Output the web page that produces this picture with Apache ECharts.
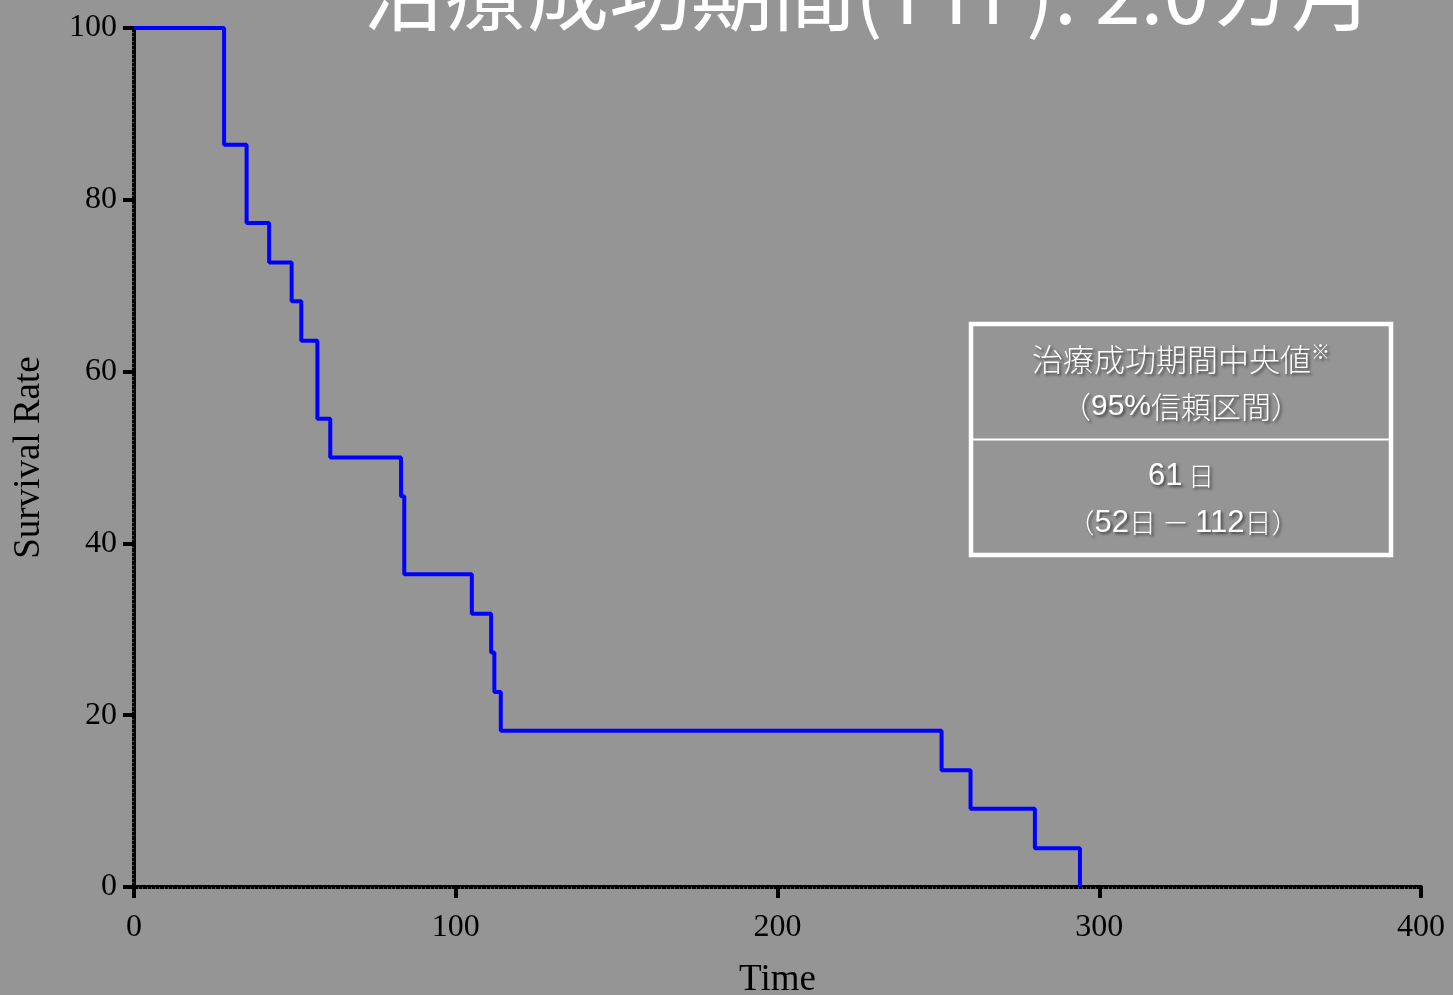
<!DOCTYPE html>
<html>
<head>
<meta charset="utf-8">
<script src="https://cdn.jsdelivr.net/npm/echarts@6/dist/echarts.min.js"></script>
<style>
html,body{margin:0;padding:0;background:#959595;}
#chart{width:1453px;height:995px;}
</style>
</head>
<body>
<div id="chart"></div>
<script>
// Kaplan-Meier step data (time in days, survival rate %)
const times = [0, 28, 35, 42, 49, 52, 57, 61, 83, 84, 105, 111, 112, 114, 251, 260, 280, 294];
const survival = [100, 86.4, 77.3, 72.7, 68.2, 63.6, 54.5, 50.0, 45.5, 36.4, 31.8, 27.3, 22.7, 18.2, 13.6, 9.1, 4.5, 0];
const xTicks = [0, 100, 200, 300, 400];
const yTicks = [0, 20, 40, 60, 80, 100];
const titleText = '治療成功期間(TTF): 2.0カ月';
const boxHeader = ['治療成功期間中央値', '（95%信頼区間）'];
const boxValue = ['61', '52', '112'];

const chart = echarts.init(document.getElementById('chart'));
const serif = '"Liberation Serif","Times New Roman",serif';
const cjk = '"Noto Sans CJK JP","Noto Sans",sans-serif';
const sans = '"Liberation Sans",Arial,sans-serif';
const shadow = {textShadowColor:'rgba(0,0,0,0.55)', textShadowBlur:3, textShadowOffsetX:2, textShadowOffsetY:2};

const option = {
  backgroundColor: '#959595',
  animation: false,
  grid: {left: 134, right: 32, top: 28, bottom: 108, containLabel: false, outerBoundsMode: 'none'},
  xAxis: {
    type: 'value', min: xTicks[0], max: xTicks[xTicks.length-1], interval: 100,
    name: 'Time', nameLocation: 'middle', nameGap: 75,
    nameTextStyle: {fontFamily: serif, fontSize: 37, color: '#000'},
    axisLine: {show: true, onZero: false, lineStyle: {color: '#000', width: 4}},
    axisTick: {show: true, length: 11, lineStyle: {color: '#000', width: 4}},
    minorTick: {show: true, splitNumber: 75, length: 2, lineStyle: {color: '#4a4a4a', width: 1}},
    axisLabel: {fontFamily: serif, fontSize: 32, color: '#000', margin: 25},
    splitLine: {show: false}
  },
  yAxis: {
    type: 'value', min: yTicks[0], max: yTicks[yTicks.length-1], interval: 20,
    name: 'Survival Rate', nameLocation: 'middle', nameGap: 86,
    nameTextStyle: {fontFamily: serif, fontSize: 37, color: '#000'},
    axisLine: {show: true, onZero: false, lineStyle: {color: '#000', width: 4}},
    axisTick: {show: true, length: 11, lineStyle: {color: '#000', width: 4}},
    minorTick: {show: true, splitNumber: 40, length: 2, lineStyle: {color: '#4a4a4a', width: 1}},
    axisLabel: {fontFamily: serif, fontSize: 32, color: '#000', margin: 17},
    splitLine: {show: false}
  },
  series: [{
    type: 'line', step: 'end', symbol: 'none', z: 1,
    data: times.map((t, i) => [t, survival[i]]),
    lineStyle: {color: '#0000ff', width: 4}
  }],
  graphic: [
    {type: 'text', left: 363, top: -48, z: 10,
     style: {text: titleText, fill: '#fff', font: '82px ' + cjk}},
    {type: 'rect', shape: {x: 971, y: 324, width: 420, height: 231}, z: 5,
     style: {fill: 'none', stroke: '#fff', lineWidth: 4.5}},
    {type: 'line', shape: {x1: 973, y1: 439.5, x2: 1389, y2: 439.5}, z: 5,
     style: {stroke: '#fff', lineWidth: 2}},
    {type: 'text', x: 1181, y: 359, z: 6,
     style: Object.assign({
       text: '{a|' + boxHeader[0] + '}{s|※}',
       rich: {a: {fontFamily: cjk, fontSize: 31, fill: '#fff', fontWeight: 300},
              s: {fontFamily: cjk, fontSize: 19, fill: '#fff', verticalAlign: 'top', padding: [0,0,14,0]}},
       align: 'center', verticalAlign: 'middle'}, shadow)},
    {type: 'text', x: 1181, y: 407, z: 6,
     style: Object.assign({
       text: '{d|（}{n|95%}{d|信頼区間）}',
       rich: {n: {fontFamily: sans, fontSize: 30, fill: '#fff'},
              d: {fontFamily: cjk, fontSize: 30, fill: '#fff', fontWeight: 300}},
       align: 'center', verticalAlign: 'middle'}, shadow)},
    {type: 'text', x: 1181, y: 476, z: 6,
     style: Object.assign({
       text: '{n|' + boxValue[0] + '}{d| 日}',
       rich: {n: {fontFamily: sans, fontSize: 31, fill: '#fff'},
              d: {fontFamily: cjk, fontSize: 26, fill: '#fff', fontWeight: 300}},
       align: 'center', verticalAlign: 'middle'}, shadow)},
    {type: 'text', x: 1183, y: 523, z: 6,
     style: Object.assign({
       text: '{d|（}{n|' + boxValue[1] + '}{d|日 － }{n|' + boxValue[2] + '}{d|日）}',
       rich: {n: {fontFamily: sans, fontSize: 31, fill: '#fff'},
              d: {fontFamily: cjk, fontSize: 27, fill: '#fff', fontWeight: 300}},
       align: 'center', verticalAlign: 'middle'}, shadow)}
  ]
};
chart.setOption(option);
</script>
</body>
</html>
